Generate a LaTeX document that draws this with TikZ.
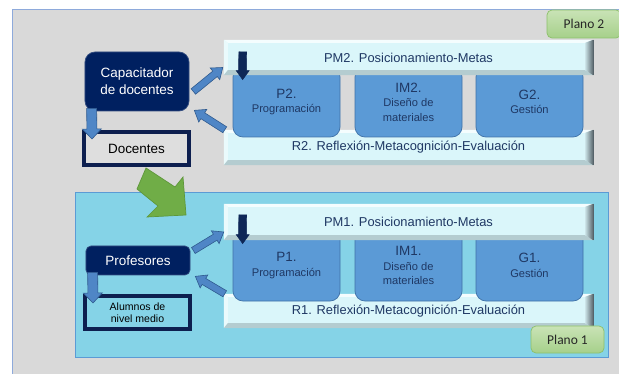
\documentclass[tikz,border=0pt]{standalone}
\usepackage{fontspec}
\setmainfont{Liberation Sans}
\newfontfamily\calibfont{Carlito}
\usetikzlibrary{calc,arrows.meta}
\definecolor{panelgray}{HTML}{D9D9D9}
\definecolor{panelline}{HTML}{8EAADB}
\definecolor{navy}{HTML}{002060}
\definecolor{barface}{HTML}{DAF6FA}
\definecolor{boxblue}{HTML}{5B9AD6}
\definecolor{boxline}{HTML}{3F72A8}
\definecolor{cyanpanel}{HTML}{85D3E7}
\definecolor{cyanline}{HTML}{5B9BD5}
\definecolor{tabtop}{HTML}{C9E3B6}
\definecolor{tabbot}{HTML}{A6D08A}
\definecolor{tabline}{HTML}{8CC06A}
\definecolor{arrgreen}{HTML}{70AD47}
\definecolor{arrgreenline}{HTML}{5E973A}
\definecolor{arrblue}{HTML}{4F86C6}
\definecolor{arrbline}{HTML}{2F5A8E}
\definecolor{darkarr}{HTML}{0E2757}
\definecolor{txtnavy}{HTML}{1F3864}
\definecolor{bevtop}{HTML}{F4FDFE}
\definecolor{bevleft}{HTML}{EAFAFC}
\definecolor{bevbot}{HTML}{B4CCD0}
\definecolor{bevrightA}{HTML}{C8E0E4}
\definecolor{bevrightB}{HTML}{56636A}
\definecolor{framefill}{HTML}{DEDEDE}
\definecolor{frameline}{HTML}{0D1F4F}
\newcommand\bevelbar[1]{%
 \fill[bevtop] (#1.north west) -- (#1.north east) -- ($(#1.north east)+(-8,3)$) -- ($(#1.north west)+(4,3)$) -- cycle;
 \fill[bevleft] (#1.north west) -- ($(#1.north west)+(4,3)$) -- ($(#1.south west)+(4,-5)$) -- (#1.south west) -- cycle;
 \fill[bevbot] (#1.south west) -- ($(#1.south west)+(4,-5)$) -- ($(#1.south east)+(-8,-5)$) -- (#1.south east) -- cycle;
 \shade[left color=bevrightA, right color=bevrightB] (#1.north east) -- ($(#1.north east)+(-8,3)$) -- ($(#1.south east)+(-8,-5)$) -- (#1.south east) -- cycle;
 \draw[bevrightB, line width=0.5pt] (#1.north east) -- (#1.south east);
}
\newcommand\blockarr[6]{%
 \coordinate (ba-h) at ($(#3)!#6!(#2)$);
 \filldraw[#1] ($(#2)!#4!90:(#3)$) -- ($(ba-h)!#4!-90:(#2)$) -- ($(ba-h)!#5!-90:(#2)$) -- (#3) -- ($(ba-h)!#5!90:(#2)$) -- ($(ba-h)!#4!90:(#2)$) -- ($(#2)!#4!-90:(#3)$) -- cycle;
}
\tikzset{
 bar/.style={fill=barface, inner sep=0pt, text=txtnavy, font=\fontsize{11}{13}\selectfont, minimum width=11.07cm},
 pbox/.style={fill=boxblue, draw=boxline, line width=0.6pt, rounded corners=0.3cm, minimum width=3.21cm, inner sep=0pt, align=center, text=txtnavy, font=\fontsize{9.5}{12.5}\selectfont},
 darkbox/.style={fill=navy, draw=navy!80!white, line width=0.6pt, text=white, align=center, inner sep=0pt, font=\fontsize{11.5}{14.5}\selectfont},
 framebox/.style={fill=#1, draw=frameline, line width=0.12cm, inner sep=0pt, align=center, text=black},
 tab/.style={rounded corners=0.15cm, top color=tabtop, bottom color=tabbot, draw=tabline, line width=0.6pt, text=black!85, font=\calibfont\fontsize{11.5}{13}\selectfont, inner sep=0pt},
 bluearr/.style={fill=arrblue, draw=arrbline, line width=0.5pt},
 darkarrow/.style={fill=darkarr, draw=darkarr, line width=0.4pt},
 greenarr/.style={fill=arrgreen, draw=arrgreenline, line width=0.6pt},
}
\begin{document}
\begin{tikzpicture}[x=0.03cm, y=-0.03cm]
\clip (0,0) rectangle (619,374);
\fill[white] (0,0) rectangle (619,374);
% gray panel
\draw[panelline, fill=panelgray, line width=0.8pt] (12,9) rectangle (640,400);
\node[tab, minimum width=2.22cm, minimum height=0.84cm] (plano2) at (584,24) {Plano 2};
% blue panel
\draw[cyanline, fill=cyanpanel, line width=0.8pt] (75,192) rectangle (608,357);
% green arrow
\filldraw[greenarr] (146,168) -- (175,187) -- (183,177) -- (186,215) -- (147,217) -- (158,206) -- (137,189) -- cycle;

% ---------- Plano 2 ----------
\node[bar, minimum height=1.05cm] (r2) at (408.5,147.5) {R2. Reflexión-Metacognición-Evaluación};
\bevelbar{r2}
\node[pbox, minimum height=2.1cm] (p2) at (286.5,102) {{\fontsize{11.5}{13}\selectfont P2.}\\Programación};
\node[pbox, minimum height=2.1cm] (im2) at (408.5,102) {{\fontsize{11.5}{13}\selectfont IM2.}\\Diseño de\\materiales};
\node[pbox, minimum height=2.1cm] (g2) at (529.5,102) {{\fontsize{11.5}{13}\selectfont G2.}\\Gestión};
\node[bar, minimum height=1.05cm] (pm2) at (408.5,57.5) {PM2. Posicionamiento-Metas};
\bevelbar{pm2}
\node[darkbox, rounded corners=0.3cm, minimum width=3.12cm, minimum height=1.77cm] (cap) at (137,81.5) {Capacitador\\de docentes};
\node[framebox=framefill, minimum width=3.15cm, minimum height=0.99cm, font=\fontsize{11.5}{14}\selectfont] (doc) at (136.5,148.5) {Docentes};

\coordinate (a1s) at ($(cap.east)+(4,10)$);
\coordinate (a1e) at ($(pm2.west)+(-1,10)$);
\blockarr{bluearr}{a1s}{a1e}{0.105cm}{0.225cm}{0.3cm}
\coordinate (a2s) at ($(r2.north west)+(1,0)$);
\coordinate (a2e) at ($(cap.south east)+(5,-1)$);
\blockarr{bluearr}{a2s}{a2e}{0.105cm}{0.225cm}{0.3cm}
\coordinate (a3s) at ($(cap.south west)+(7,-3)$);
\coordinate (a3e) at ($(doc.north west)+(10,9)$);
\blockarr{bluearr}{a3s}{a3e}{0.15cm}{0.285cm}{0.3cm}
\coordinate (d2s) at ($(pm2.north west)+(19,12)$);
\coordinate (d2e) at ($(p2.north west)+(10,13)$);
\blockarr{darkarrow}{d2s}{d2e}{0.12cm}{0.195cm}{0.27cm}

% ---------- Plano 1 ----------
\node[bar, minimum height=1.02cm] (r1) at (408.5,311) {R1. Reflexión-Metacognición-Evaluación};
\bevelbar{r1}
\node[pbox, minimum height=2.13cm] (p1) at (286.5,265.5) {{\fontsize{11.5}{13}\selectfont P1.}\\Programación};
\node[pbox, minimum height=2.13cm] (im1) at (408.5,265.5) {{\fontsize{11.5}{13}\selectfont IM1.}\\Diseño de\\materiales};
\node[pbox, minimum height=2.13cm] (g1) at (529.5,265.5) {{\fontsize{11.5}{13}\selectfont G1.}\\Gestión};
\node[bar, minimum height=1.08cm] (pm1) at (408.5,222) {PM1. Posicionamiento-Metas};
\bevelbar{pm1}
\node[darkbox, rounded corners=0.15cm, minimum width=3.12cm, minimum height=0.87cm] (prof) at (138,260.5) {Profesores};
\node[framebox=cyanpanel, minimum width=3.15cm, minimum height=0.99cm, font=\fontsize{9}{10.5}\selectfont] (alum) at (137.5,312.5) {Alumnos de\\nivel medio};

\coordinate (b1s) at ($(prof.east)+(3,-10)$);
\coordinate (b1e) at ($(pm1.west)+(0,10)$);
\blockarr{bluearr}{b1s}{b1e}{0.105cm}{0.225cm}{0.3cm}
\coordinate (b2s) at ($(r1.north west)+(1,0)$);
\coordinate (b2e) at ($(prof.south east)+(5,1)$);
\blockarr{bluearr}{b2s}{b2e}{0.105cm}{0.225cm}{0.3cm}
\coordinate (b3s) at ($(prof.south west)+(7,-3)$);
\coordinate (b3e) at ($(alum.north west)+(10,9)$);
\blockarr{bluearr}{b3s}{b3e}{0.15cm}{0.285cm}{0.3cm}
\coordinate (d1s) at ($(pm1.north west)+(19,11)$);
\coordinate (d1e) at ($(p1.north west)+(10,14)$);
\blockarr{darkarrow}{d1s}{d1e}{0.12cm}{0.195cm}{0.27cm}

\node[tab, minimum width=2.19cm, minimum height=0.81cm] (plano1) at (567.5,339.5) {Plano 1};
\end{tikzpicture}
\end{document}
